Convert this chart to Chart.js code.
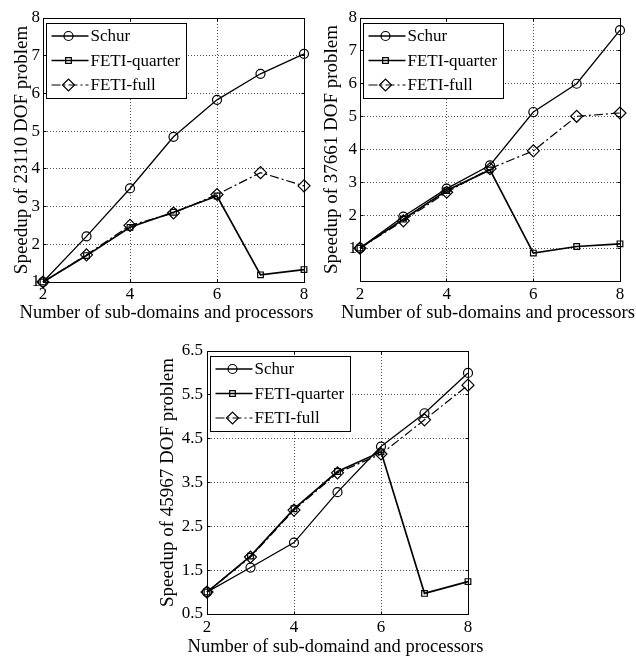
<!DOCTYPE html>
<html>
<head>
<meta charset="utf-8">
<script src="https://cdn.jsdelivr.net/npm/chart.js@4.4.0/dist/chart.umd.min.js"></script>
<style>
    html, body { margin: 0; padding: 0; background: #fff; }
    #wrap { position: relative; width: 636px; height: 657px; overflow: hidden; }
    canvas { position: absolute; }
</style>
</head>
<body>
<div id="wrap">
    <canvas id="c1" width="318" height="330" style="left:0;top:0"></canvas>
    <canvas id="c2" width="318" height="330" style="left:318px;top:0"></canvas>
    <canvas id="c3" width="340" height="327" style="left:150px;top:330px"></canvas>
</div>
<script>
// sub-domains / processors
const procs = [2, 3, 4, 5, 6, 7, 8];
const seriesNames = ['Schur', 'FETI-quarter', 'FETI-full'];
const xTicks = [2, 4, 6, 8];
const xTitle = 'Number of sub-domains and processors';
const xTitle3 = 'Number of sub-domaind and processors'; // spelled so in the source figure

// 23110 DOF
const schur23110 = [1.00, 2.21, 3.48, 4.85, 5.83, 6.52, 7.05];
const quarter23110 = [1.00, 1.70, 2.45, 2.85, 3.28, 1.19, 1.33];
const full23110 = [1.00, 1.72, 2.50, 2.83, 3.32, 3.90, 3.55];
const yTicks23110 = [1, 2, 3, 4, 5, 6, 7, 8];

// 37661 DOF
const schur37661 = [1.00, 1.96, 2.81, 3.52, 5.14, 6.00, 7.63];
const quarter37661 = [1.00, 1.88, 2.75, 3.38, 0.85, 1.05, 1.13];
const full37661 = [1.00, 1.83, 2.70, 3.42, 3.96, 5.01, 5.11];
const yTicks37661 = [1, 2, 3, 4, 5, 6, 7, 8];

// 45967 DOF
const schur45967 = [1.00, 1.56, 2.13, 3.28, 4.32, 5.08, 6.00];
const quarter45967 = [1.00, 1.82, 2.90, 3.75, 4.20, 0.97, 1.24];
const full45967 = [1.00, 1.80, 2.87, 3.72, 4.15, 4.93, 5.72];
const yTicks45967 = [0.5, 1.5, 2.5, 3.5, 4.5, 5.5, 6.5];

const FONT = '"Liberation Serif", "Times New Roman", serif';

function align(px) {
    return Math.round(px - 0.5) + 0.5;
}

// open markers, like the plot's own (no fill)
function drawMarker(ctx, style, x, y, r) {
    ctx.beginPath();
    if (style === 'circle') {
        ctx.arc(x, y, r, 0, Math.PI * 2);
    } else if (style === 'rect') {
        const s = r * Math.SQRT1_2;
        ctx.rect(x - s, y - s, 2 * s, 2 * s);
    } else {
        ctx.moveTo(x - r, y); ctx.lineTo(x, y - r);
        ctx.lineTo(x + r, y); ctx.lineTo(x, y + r);
        ctx.closePath();
    }
    ctx.stroke();
}

// box round the plot, inner tick marks, x label and the legend (MATLAB look)
const frameAndLegend = {
    id: 'frameAndLegend',
    afterDraw(chart, args, opts) {
        const { ctx, chartArea: a, scales: { x, y } } = chart;
        const L = align(a.left), R = align(a.right), T = align(a.top), B = align(a.bottom);
        ctx.save();
        ctx.strokeStyle = '#000';
        ctx.lineWidth = 1;
        ctx.setLineDash([]);
        ctx.strokeRect(L, T, R - L, B - T);

        ctx.beginPath();
        xTicks.forEach(v => {
            const px = align(x.getPixelForValue(v));
            ctx.moveTo(px, B); ctx.lineTo(px, B - 3);
            ctx.moveTo(px, T); ctx.lineTo(px, T + 3);
        });
        y.ticks.forEach(t => {
            const py = align(y.getPixelForValue(t.value));
            ctx.moveTo(L, py); ctx.lineTo(L + 3, py);
            ctx.moveTo(R, py); ctx.lineTo(R - 3, py);
        });
        ctx.stroke();

        // x label: may run past the axis ends, so not squeezed into the scale width
        ctx.fillStyle = '#000';
        ctx.font = '18.5px ' + FONT;
        ctx.textAlign = 'center';
        ctx.textBaseline = 'middle';
        ctx.fillText(opts.title, (a.left + a.right) / 2 + opts.titleDx, a.bottom + opts.titleDy);

        // legend
        ctx.font = '17px ' + FONT;
        const sets = chart.data.datasets;
        const textW = Math.max(...sets.map(d => ctx.measureText(d.label).width));
        const bx = align(a.left + 3), by = align(a.top + 5);
        const rowH = 24.5;
        const bw = Math.round(44 + textW + 6), bh = Math.round(rowH * 3 + 1);
        ctx.fillStyle = '#fff';
        ctx.fillRect(bx, by, bw, bh);
        ctx.strokeRect(bx, by, bw, bh);
        sets.forEach((ds, i) => {
            const cy = by + 12.5 + i * rowH;
            ctx.strokeStyle = '#000';
            ctx.lineWidth = ds.borderWidth;
            ctx.setLineDash(ds.borderDash || []);
            ctx.beginPath();
            ctx.moveTo(bx + 5, cy); ctx.lineTo(bx + 42, cy);
            ctx.stroke();
            ctx.setLineDash([]);
            ctx.lineWidth = ds.pointBorderWidth;
            drawMarker(ctx, ds.pointStyle, bx + 22, cy, ds.pointRadius);
            ctx.fillStyle = '#000';
            ctx.textBaseline = 'middle';
            ctx.textAlign = 'left';
            ctx.fillText(ds.label, bx + 44, cy + 1);
        });
        ctx.restore();
    }
};

function points(vals) {
    return procs.map((p, i) => ({ x: p, y: vals[i] }));
}

function makeChart(id, dof, series, yTicks, yMin, yMax, box) {
    const styles = [
        { borderWidth: 1.3, pointStyle: 'circle', pointRadius: 4.5, borderDash: [] },
        { borderWidth: 1.7, pointStyle: 'rect', pointRadius: 4, borderDash: [] },
        { borderWidth: 1.2, pointStyle: 'rectRot', pointRadius: 6, borderDash: [9, 3, 2, 3] }
    ];
    return new Chart(document.getElementById(id), {
        type: 'line',
        data: {
            datasets: series.map((vals, i) => ({
                label: seriesNames[i],
                data: points(vals),
                borderColor: '#000',
                backgroundColor: 'transparent',
                pointBackgroundColor: 'rgba(0,0,0,0)',
                pointBorderColor: '#000',
                pointBorderWidth: 1.2,
                tension: 0,
                clip: false,
                order: 3 - i,
                ...styles[i]
            }))
        },
        options: {
            responsive: false,
            animation: false,
            events: [],
            layout: { padding: { top: box.top, right: box.right, left: 0, bottom: 0 } },
            plugins: {
                legend: { display: false },
                tooltip: { enabled: false },
                frameAndLegend: { title: box.title, titleDx: box.titleDx, titleDy: box.titleDy }
            },
            scales: {
                x: {
                    type: 'linear',
                    min: 2, max: 8,
                    afterBuildTicks: s => { s.ticks = xTicks.map(v => ({ value: v })); },
                    afterFit: s => { s.height = box.xH; },
                    grid: { color: '#555', drawTicks: false },
                    border: { color: '#000', width: 1, dash: [1, 2] },
                    ticks: { color: '#000', padding: box.xPad, font: { family: FONT, size: 17 }, maxRotation: 0 },
                    title: { display: false }
                },
                y: {
                    type: 'linear',
                    min: yMin, max: yMax,
                    afterBuildTicks: s => { s.ticks = yTicks.map(v => ({ value: v })); },
                    afterFit: s => { s.width = box.yW; },
                    grid: { color: '#555', drawTicks: false },
                    border: { color: '#000', width: 1, dash: [1, 2] },
                    ticks: { color: '#000', padding: box.yPad, font: { family: FONT, size: 17 } },
                    title: {
                        display: true,
                        text: 'Speedup of ' + dof + ' DOF problem',
                        color: '#000',
                        font: { family: FONT, size: 19, lineHeight: 1 },
                        padding: { top: box.yTitle, bottom: 0 }
                    }
                }
            }
        },
        plugins: [frameAndLegend]
    });
}

makeChart('c1', '23110', [schur23110, quarter23110, full23110], yTicks23110, 1, 8,
    { top: 18, right: 14, xH: 48, yW: 43, xPad: 2, yPad: 3, title: xTitle, titleDx: -7, titleDy: 31, yTitle: 12.5 });
makeChart('c2', '37661', [schur37661, quarter37661, full37661], yTicks37661, 0, 8,
    { top: 18, right: 16, xH: 49, yW: 42, xPad: 3, yPad: 3, title: xTitle, titleDx: -2, titleDy: 32, yTitle: 4.5 });
makeChart('c3', '45967', [schur45967, quarter45967, full45967], yTicks45967, 0.5, 6.5,
    { top: 21, right: 22, xH: 43, yW: 57, xPad: 3, yPad: 4, title: xTitle3, titleDx: -2, titleDy: 33, yTitle: 8.5 });
</script>
</body>
</html>
